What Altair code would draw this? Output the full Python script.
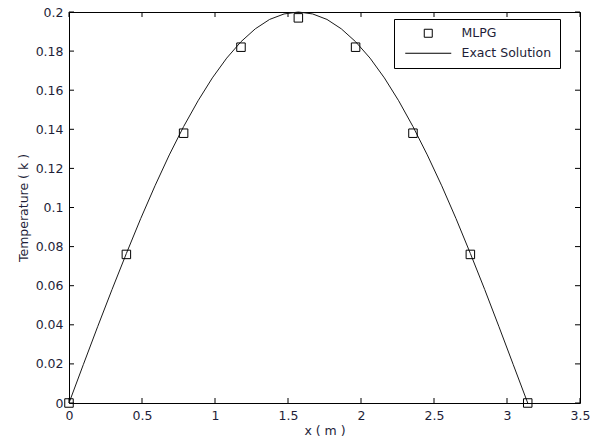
import altair as alt
import pandas as pd

# Exact solution curve
exact_x = [0.000, 0.098, 0.196, 0.295, 0.393, 0.491, 0.589, 0.687, 0.785,
           0.884, 0.982, 1.080, 1.178, 1.276, 1.374, 1.473, 1.571,
           1.669, 1.767, 1.865, 1.963, 2.062, 2.160, 2.258, 2.356,
           2.454, 2.553, 2.651, 2.749, 2.847, 2.945, 3.043, 3.142]
exact_t = [0.0000, 0.0196, 0.0390, 0.0581, 0.0765, 0.0943, 0.1111, 0.1269, 0.1414,
           0.1546, 0.1663, 0.1764, 0.1848, 0.1914, 0.1962, 0.1990, 0.2000,
           0.1990, 0.1962, 0.1914, 0.1848, 0.1764, 0.1663, 0.1546, 0.1414,
           0.1269, 0.1111, 0.0943, 0.0765, 0.0581, 0.0390, 0.0196, 0.0000]

# MLPG nodal results
mlpg_x = [0.000, 0.393, 0.785, 1.178, 1.571, 1.963, 2.356, 2.749, 3.142]
mlpg_t = [0.000, 0.076, 0.138, 0.182, 0.197, 0.182, 0.138, 0.076, 0.000]

series_names = ["MLPG", "Exact Solution"]

x_ticks = [0, 0.5, 1, 1.5, 2, 2.5, 3, 3.5]
y_ticks = [0, 0.02, 0.04, 0.06, 0.08, 0.1, 0.12, 0.14, 0.16, 0.18, 0.2]

W, H = 511, 391
TICK = 5
FONT = "DejaVu Sans"
FS = 12.5
TXT = "#1e1e38"

exact_df = pd.DataFrame({"x": exact_x, "t": exact_t, "series": series_names[1]})
mlpg_df = pd.DataFrame({"x": mlpg_x, "t": mlpg_t, "series": series_names[0]})
xt_df = pd.DataFrame({"x": x_ticks})
yt_df = pd.DataFrame({"t": y_ticks})

xscale = alt.Scale(domain=[0, 3.5], nice=False, zero=False)
yscale = alt.Scale(domain=[0, 0.2], nice=False, zero=False)

xaxis = alt.Axis(values=x_ticks, ticks=False, domain=False, grid=False,
                 labelPadding=6, title="x ( m )", titlePadding=3,
                 labelFlush=False, labelOverlap=False, format="~g")
yaxis = alt.Axis(values=y_ticks, ticks=False, domain=False, grid=False,
                 labelPadding=6, title="Temperature ( k )", titlePadding=5,
                 labelFlush=False, labelOverlap=False, format="~g")

X = lambda f: alt.X(f"{f}:Q", scale=xscale, axis=xaxis)
Y = lambda f: alt.Y(f"{f}:Q", scale=yscale, axis=yaxis)

curve = alt.Chart(exact_df).mark_line(color="#1a1a1a", strokeWidth=1).encode(
    x=X("x"), y=Y("t"), order="x:Q"
)

# legend: square for the nodes, a horizontal stroke for the exact curve
legend = alt.Legend(
    title=None, orient="none", legendX=325, legendY=7,
    strokeColor="black", fillColor="white", padding=8,
    symbolSize=64, symbolOffset=20, labelOffset=27, rowPadding=7,
    labelFont=FONT, labelFontSize=FS, labelColor=TXT,
    symbolStrokeColor="black", symbolFillColor="white", symbolStrokeWidth=1,
)

points = alt.Chart(mlpg_df).mark_point(
    filled=False, color="black", strokeWidth=1, size=72, opacity=1, clip=False
).encode(
    x=X("x"), y=Y("t"),
    shape=alt.Shape("series:N",
                    scale=alt.Scale(domain=series_names, range=["square", "M-5.75,0H5.75"]),
                    legend=legend),
)

# inward tick marks on all four sides of the box
bottom_ticks = alt.Chart(xt_df).mark_rule(color="black", strokeWidth=1).encode(
    x=X("x"), y=alt.value(H), y2=alt.value(H - TICK))
top_ticks = alt.Chart(xt_df).mark_rule(color="black", strokeWidth=1).encode(
    x=X("x"), y=alt.value(0), y2=alt.value(TICK))
left_ticks = alt.Chart(yt_df).mark_rule(color="black", strokeWidth=1).encode(
    y=Y("t"), x=alt.value(0), x2=alt.value(TICK))
right_ticks = alt.Chart(yt_df).mark_rule(color="black", strokeWidth=1).encode(
    y=Y("t"), x=alt.value(W), x2=alt.value(W - TICK))

chart = alt.layer(
    bottom_ticks, top_ticks, left_ticks, right_ticks, curve, points
).properties(
    width=W, height=H,
    autosize=alt.AutoSizeParams(type="none"),
    padding={"left": 69, "top": 12, "right": 16, "bottom": 42},
    background="white",
).configure_view(
    stroke="black", strokeWidth=1
).configure_axis(
    labelFont=FONT, labelFontSize=FS, labelColor=TXT,
    titleFont=FONT, titleFontSize=FS, titleColor=TXT, titleFontWeight="normal",
)

chart.save("out.html", embed_options={"renderer": "svg", "actions": False})
